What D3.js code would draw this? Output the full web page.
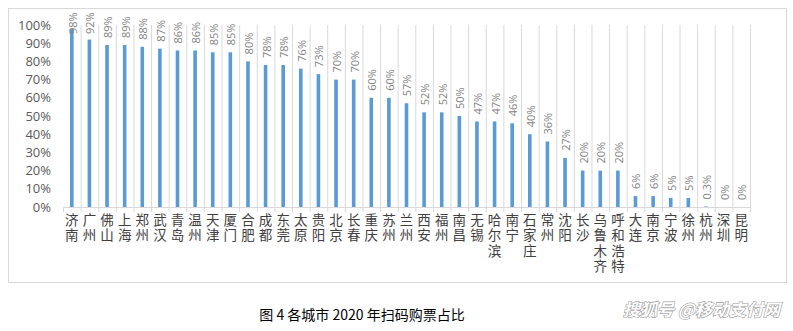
<!DOCTYPE html>
<html>
<head>
<meta charset="utf-8">
<script src="https://cdn.jsdelivr.net/npm/d3@7"></script>
<style>
  html, body { margin: 0; padding: 0; background: #fff; }
  svg { display: block; }
</style>
</head>
<body>
<div id="chart"></div>
<script>
// city names and share of scan-to-buy tickets (percent)
const cities = ["济南", "广州", "佛山", "上海", "郑州", "武汉", "青岛", "温州", "天津", "厦门",
  "合肥", "成都", "东莞", "太原", "贵阳", "北京", "长春", "重庆", "苏州", "兰州",
  "西安", "福州", "南昌", "无锡", "哈尔滨", "南宁", "石家庄", "常州", "沈阳", "长沙",
  "乌鲁木齐", "呼和浩特", "大连", "南京", "宁波", "徐州", "杭州", "深圳", "昆明"];
const shares = [98, 92, 89, 89, 88, 87, 86, 86, 85, 85,
  80, 78, 78, 76, 73, 70, 70, 60, 60, 57,
  52, 52, 50, 47, 47, 46, 40, 36, 27, 20,
  20, 20, 6, 6, 5, 5, 0.3, 0, 0];
const yTicks = [0, 10, 20, 30, 40, 50, 60, 70, 80, 90, 100];

const W = 793, H = 331;
const plot = { left: 63, right: 750, top: 25, bottom: 207 };

const svg = d3.select("#chart").append("svg")
  .attr("width", W).attr("height", H);

// outer chart frame
svg.append("rect")
  .attr("x", 8.5).attr("y", 8.5)
  .attr("width", 778).attr("height", 274)
  .attr("fill", "#fff")
  .attr("stroke", "#d9d9d9");

const x = d3.scaleBand().domain(cities).range([plot.left, plot.right]);
const y = d3.scaleLinear().domain([0, 100]).range([plot.bottom, plot.top]);

// vertical gridlines at category boundaries
svg.append("g").selectAll("line")
  .data(cities)
  .join("line")
  .attr("x1", d => x(d) + x.bandwidth() + 0.5)
  .attr("x2", d => x(d) + x.bandwidth() + 0.5)
  .attr("y1", y(100)).attr("y2", plot.bottom)
  .attr("stroke", "#d9d9d9");

// x axis line + ticks
svg.append("line")
  .attr("x1", plot.left).attr("x2", plot.right)
  .attr("y1", plot.bottom + 0.5).attr("y2", plot.bottom + 0.5)
  .attr("stroke", "#d9d9d9");
svg.append("g").selectAll("line")
  .data([null].concat(cities))
  .join("line")
  .attr("x1", (d, i) => (i === 0 ? plot.left : x(d) + x.bandwidth()) + 0.5)
  .attr("x2", (d, i) => (i === 0 ? plot.left : x(d) + x.bandwidth()) + 0.5)
  .attr("y1", plot.bottom).attr("y2", plot.bottom + 5)
  .attr("stroke", "#d9d9d9");

// y tick labels
svg.append("g").selectAll("text")
  .data(yTicks)
  .join("text")
  .attr("x", 51)
  .attr("y", d => y(d))
  .attr("dy", "0.36em")
  .attr("text-anchor", "end")
  .style("font", "13px 'Open Sans', sans-serif")
  .style("fill", "#595959")
  .text(d => d + "%");

// bars
const barW = 3.6;
svg.append("g").selectAll("rect")
  .data(shares)
  .join("rect")
  .attr("x", (d, i) => x(cities[i]) + x.bandwidth() / 2 - barW / 2)
  .attr("y", d => y(d))
  .attr("width", barW)
  .attr("height", d => plot.bottom - y(d))
  .attr("fill", "#5b9bd5");

// value labels, rotated
svg.append("g").selectAll("text")
  .data(shares)
  .join("text")
  .attr("transform", (d, i) => {
    const cx = x(cities[i]) + x.bandwidth() / 2 + 1;
    const cy = Math.max(y(d) - 7, 34);
    return `translate(${cx},${cy}) rotate(-90)`;
  })
  .attr("dy", "0.36em")
  .style("font", "11px 'Open Sans', sans-serif")
  .style("fill", "#7f7f7f")
  .text(d => d + "%");

// category labels, written top-to-bottom
svg.append("g").selectAll("text")
  .data(cities)
  .join("text")
  .attr("x", d => x(d) + x.bandwidth() / 2)
  .attr("y", 213)
  .style("writing-mode", "vertical-rl")
  .style("text-orientation", "upright")
  .style("letter-spacing", "2px")
  .style("font", "13.5px 'Noto Sans CJK SC', sans-serif")
  .style("fill", "#404040")
  .text(d => d);

// caption
svg.append("text")
  .attr("x", 362).attr("y", 320)
  .attr("text-anchor", "middle")
  .style("font", "14px 'Noto Sans CJK SC', sans-serif")
  .style("fill", "#000")
  .text("图 4 各城市 2020 年扫码购票占比");

// source mark
svg.append("text")
  .attr("x", 780).attr("y", 316)
  .attr("text-anchor", "end")
  .style("font", "bold italic 17px 'Noto Sans CJK SC', sans-serif")
  .style("fill", "#fff")
  .style("stroke", "#9a9a9a")
  .style("stroke-width", 1.2)
  .style("paint-order", "stroke")
  .text("搜狐号 @移动支付网");
</script>
</body>
</html>
